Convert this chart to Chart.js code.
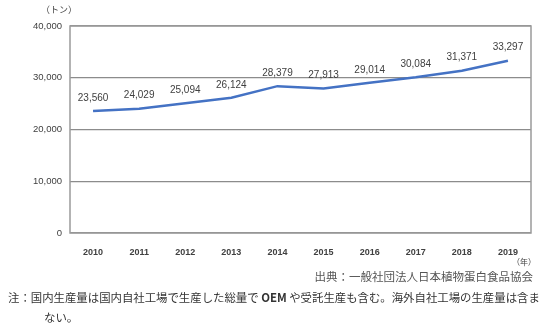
<!DOCTYPE html>
<html>
<head>
<meta charset="utf-8">
<script src="https://cdn.jsdelivr.net/npm/chart.js@4/dist/chart.umd.min.js"></script>
<style>
    body { margin: 0; background: #fff; }
    #wrap { position: relative; width: 550px; height: 333px; }
    #chart { position: absolute; left: 0; top: 0; }
    .txt { position: absolute; font-family: "Noto Sans CJK JP", sans-serif; color: #404040; white-space: nowrap; }
</style>
</head>
<body>
<div id="wrap">
    <canvas id="chart" width="550" height="333"></canvas>
    <div class="txt" style="left:41px; top:3px; font-size:9px;">（トン）</div>
    <div class="txt" style="left:512px; top:256px; font-size:8px;">（年）</div>
    <div class="txt" style="right:17px; top:268px; font-size:11.5px; color:#555;">出典：一般社団法人日本植物蛋白食品協会</div>
    <div class="txt" style="left:8px; top:289px; font-size:11.4px; color:#333;">注：国内生産量は国内自社工場で生産した総量で <b>OEM</b> や受託生産も含む。海外自社工場の生産量は含ま</div>
    <div class="txt" style="left:44px; top:309px; font-size:11.4px; color:#333;">ない。</div>
</div>
<script>
// 카테고리 (年)
const years = ['2010', '2011', '2012', '2013', '2014', '2015', '2016', '2017', '2018', '2019'];
// 국내생산량 (トン)
const production = [23560, 24029, 25094, 26124, 28379, 27913, 29014, 30084, 31371, 33297];
// y축 눈금
const yTicks = [0, 10000, 20000, 30000, 40000];

const fmt = v => v.toLocaleString('en-US');

// 데이터 라벨 플러그인
const valueLabels = {
    id: 'valueLabels',
    afterDatasetsDraw(chart) {
        const ctx = chart.ctx;
        const meta = chart.getDatasetMeta(0);
        ctx.save();
        ctx.font = '10px "Liberation Sans", sans-serif';
        ctx.fillStyle = '#404040';
        ctx.textAlign = 'center';
        ctx.textBaseline = 'middle';
        meta.data.forEach((pt, i) => {
            ctx.fillText(fmt(production[i]), pt.x, pt.y - 13);
        });
        ctx.restore();
    }
};

// 플롯 테두리
const plotBorder = {
    id: 'plotBorder',
    beforeDatasetsDraw(chart) {
        const { ctx, chartArea: a } = chart;
        ctx.save();
        ctx.strokeStyle = '#9a9a9a';
        ctx.lineWidth = 1.5;
        ctx.strokeRect(a.left, a.top, a.right - a.left, a.bottom - a.top);
        ctx.restore();
    }
};

new Chart(document.getElementById('chart'), {
    type: 'line',
    data: {
        labels: years,
        datasets: [{
            data: production,
            borderColor: '#4472C4',
            borderWidth: 2.5,
            pointRadius: 0,
            tension: 0,
            fill: false
        }]
    },
    options: {
        responsive: false,
        animation: false,
        layout: { padding: { left: 0, right: 19, top: 26, bottom: 75 } },
        plugins: { legend: { display: false }, tooltip: { enabled: false } },
        scales: {
            x: {
                offset: true,
                grid: { display: false },
                border: { display: false },
                ticks: {
                    color: '#404040',
                    font: { family: 'Liberation Sans', size: 9, weight: 'bold' },
                    maxRotation: 0,
                    padding: 6
                },
                afterFit(scale) { scale.height = 25; }
            },
            y: {
                min: 0,
                max: 40000,
                afterBuildTicks(scale) { scale.ticks = yTicks.map(v => ({ value: v })); },
                grid: { color: '#8c8c8c', lineWidth: 1.2, drawTicks: false },
                border: { display: false },
                ticks: {
                    color: '#404040',
                    font: { family: 'Liberation Sans', size: 9.5 },
                    padding: 8,
                    callback: v => fmt(v)
                },
                afterFit(scale) { scale.width = 70; }
            }
        }
    },
    plugins: [plotBorder, valueLabels]
});
</script>
</body>
</html>
